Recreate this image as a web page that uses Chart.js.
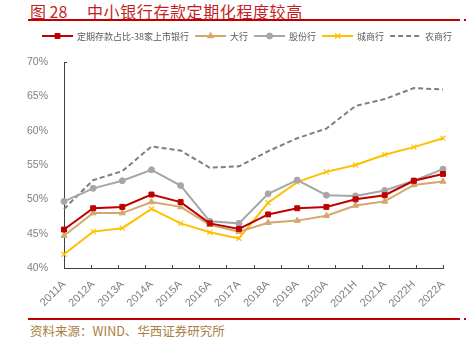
<!DOCTYPE html>
<html>
<head>
<meta charset="utf-8">
<script src="https://cdn.jsdelivr.net/npm/chart.js@4.4.0/dist/chart.umd.min.js"></script>
<style>
  body { margin: 0; width: 467px; height: 337px; overflow: hidden; background: #fff; position: relative;
         font-family: "Noto Sans CJK SC", sans-serif; }
  .title { position: absolute; top: -1px; font-size: 16px; color: #c41e24; white-space: nowrap; }
  .rule { position: absolute; left: 28px; width: 432px; height: 2px; background: #c00000; }
  .dot { position: absolute; left: 464px; width: 2px; height: 2px; background: #c00000; }
  #source { position: absolute; left: 30px; top: 321px; font-size: 12.5px; color: #a8803f; white-space: nowrap; }
  #wrap { position: absolute; left: 0; top: 0; width: 467px; height: 337px; }
</style>
</head>
<body>
<div class="title" style="left:30px">图 28</div>
<div class="title" style="left:87px;letter-spacing:0.6px">中小银行存款定期化程度较高</div>
<div class="rule" style="top:19px"></div><div class="dot" style="top:19px"></div>
<div class="rule" style="top:318px"></div><div class="dot" style="top:318px"></div>
<div id="source">资料来源：WIND、华西证券研究所</div>
<div id="wrap"><canvas id="chart"></canvas></div>

<script>
const periods = ['2011A', '2012A', '2013A', '2014A', '2015A', '2016A', '2017A',
                 '2018A', '2019A', '2020A', '2021H', '2021A', '2022H', '2022A'];

// 定期存款占比（%）
const listedBanks = [45.6, 48.7, 48.9, 50.7, 49.6, 46.5, 45.7, 47.8, 48.7, 48.9, 50.0, 50.6, 52.7, 53.7];
const bigBanks    = [44.7, 48.0, 48.0, 49.6, 48.9, 46.3, 45.3, 46.6, 46.9, 47.6, 49.1, 49.7, 52.1, 52.6];
const jointStock  = [49.7, 51.6, 52.7, 54.3, 52.0, 46.8, 46.5, 50.8, 52.8, 50.6, 50.5, 51.3, 52.7, 54.4];
const cityBanks   = [42.0, 45.3, 45.8, 48.6, 46.5, 45.2, 44.3, 49.5, 52.5, 54.0, 55.0, 56.5, 57.6, 58.9];
const ruralBanks  = [48.6, 52.8, 54.1, 57.7, 57.1, 54.6, 54.8, 57.0, 58.9, 60.3, 63.6, 64.6, 66.2, 66.0];

const yTicks = [40, 45, 50, 55, 60, 65, 70];

// legend drawn as short line samples with the series marker in the middle
const lineLegend = {
  id: 'lineLegend',
  afterDraw(chart) {
    const ctx = chart.ctx;
    ctx.save();
    ctx.font = '9px "Noto Sans CJK SC"';
    ctx.textBaseline = 'middle';
    let x = 42;
    const y = 36;
    chart.data.datasets.forEach(ds => {
      ctx.strokeStyle = ds.borderColor;
      ctx.lineWidth = 2;
      ctx.setLineDash(ds.borderDash || []);
      ctx.beginPath();
      ctx.moveTo(x, y);
      ctx.lineTo(x + 31, y);
      ctx.stroke();
      ctx.setLineDash([]);
      if (ds.pointRadius > 0) {
        ctx.fillStyle = ds.pointBackgroundColor;
        ctx.strokeStyle = ds.pointBorderColor;
        ctx.lineWidth = ds.pointBorderWidth;
        Chart.helpers.drawPoint(ctx, { pointStyle: ds.pointStyle, radius: ds.pointRadius, borderWidth: ds.pointBorderWidth, rotation: 0 }, x + 15.5, y);
      }
      ctx.fillStyle = '#595959';
      ctx.fillText(ds.label, x + 35, y + 0.5);
      x += 35 + ctx.measureText(ds.label).width + 6;
    });
    ctx.restore();
  }
};

// small inward tick marks on the category axis
const innerTicks = {
  id: 'innerTicks',
  afterDraw(chart) {
    const { ctx, chartArea: a } = chart;
    const n = chart.data.labels.length;
    const step = (a.right - a.left) / n;
    ctx.save();
    ctx.strokeStyle = '#404040';
    ctx.lineWidth = 1;
    ctx.beginPath();
    for (let k = 1; k <= n; k++) {
      const px = Math.round(a.left + k * step) + 0.5;
      ctx.moveTo(px, a.bottom);
      ctx.lineTo(px, a.bottom - 3);
    }
    ctx.moveTo(a.left, a.top + 0.5);
    ctx.lineTo(a.left + 3, a.top + 0.5);
    ctx.stroke();
    ctx.restore();
  }
};

function series(label, data, color, style, extra) {
  return Object.assign({
    label: label,
    data: data,
    borderColor: color,
    backgroundColor: color,
    borderWidth: 2,
    pointStyle: style,
    pointRadius: 3,
    pointBackgroundColor: color,
    pointBorderColor: color,
    pointBorderWidth: 1,
    tension: 0
  }, extra || {});
}

new Chart(document.getElementById('chart'), {
  type: 'line',
  data: {
    labels: periods,
    datasets: [
      series('定期存款占比-38家上市银行', listedBanks, '#c00000', 'rect', { pointRadius: 3.5 }),
      series('大行', bigBanks, '#d4a76a', 'triangle', { pointRadius: 3.5 }),
      series('股份行', jointStock, '#a6a6a6', 'circle'),
      series('城商行', cityBanks, '#ffc000', 'crossRot', { pointRadius: 3.5, pointBorderWidth: 1.2 }),
      series('农商行', ruralBanks, '#7f7f7f', 'circle', { pointRadius: 0, borderDash: [5, 3] })
    ]
  },
  options: {
    responsive: true,
    maintainAspectRatio: false,
    animation: false,
    layout: { padding: { left: 20, right: 24, top: 62, bottom: 15 } },
    plugins: { legend: { display: false }, tooltip: { enabled: false } },
    scales: {
      x: {
        grid: { display: false },
        border: { display: true, color: '#404040', width: 1 },
        ticks: {
          color: '#7f7f7f',
          font: { family: 'Liberation Sans', size: 11 },
          minRotation: 45,
          maxRotation: 45,
          padding: 2
        },
        afterFit: s => { s.height = 54; }
      },
      y: {
        min: 40,
        max: 70,
        grid: { display: false },
        border: { display: true, color: '#404040', width: 1 },
        afterBuildTicks: s => { s.ticks = yTicks.map(v => ({ value: v })); },
        ticks: {
          color: '#7f7f7f',
          font: { family: 'Liberation Sans', size: 10.5 },
          padding: 8,
          callback: v => v + '%'
        },
        afterFit: s => { s.width = 44; }
      }
    }
  },
  plugins: [lineLegend, innerTicks]
});
</script>
</body>
</html>
